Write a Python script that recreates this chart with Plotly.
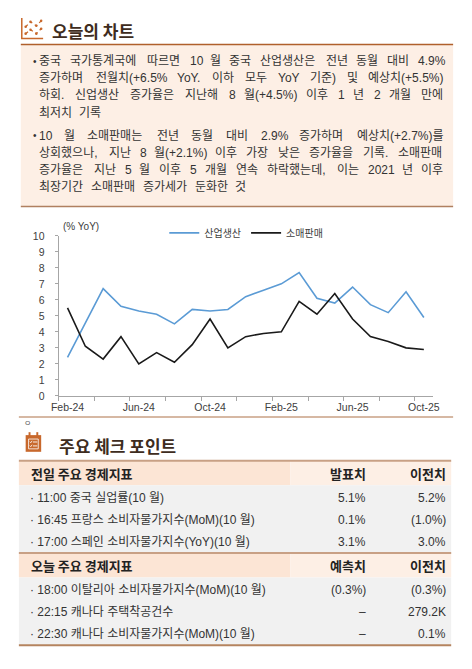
import plotly.graph_objects as go

# the page body adds an 8px margin round the figure, so the figure is
# made 16px smaller and every layout position is shifted back by 8px
OFF = 8
W, H = 472 - 2 * OFF, 669 - 2 * OFF

# chart data (% YoY)
months = ["Feb-24", "Mar-24", "Apr-24", "May-24", "Jun-24", "Jul-24", "Aug-24",
          "Sep-24", "Oct-24", "Nov-24", "Dec-24", "Jan-25", "Feb-25", "Mar-25",
          "Apr-25", "May-25", "Jun-25", "Jul-25", "Aug-25", "Sep-25", "Oct-25"]
ind_prod = [2.4, 4.5, 6.7, 5.6, 5.3, 5.1, 4.5, 5.4, 5.3, 5.4, 6.2, 6.6, 7.0,
            7.7, 6.1, 5.8, 6.8, 5.7, 5.2, 6.5, 4.9]
retail = [5.5, 3.1, 2.3, 3.7, 2.0, 2.7, 2.1, 3.2, 4.8, 3.0, 3.7, 3.9, 4.0,
          5.9, 5.1, 6.4, 4.8, 3.7, 3.4, 3.0, 2.9]
series_names = ["산업생산", "소매판매"]
tick_idx = [0, 4, 8, 12, 16, 20]

bullet1 = ["중국 국가통계국에 따르면 10 월 중국 산업생산은 전년 동월 대비 4.9%",
           "증가하며 전월치(+6.5% YoY. 이하 모두 YoY 기준) 및 예상치(+5.5%)",
           "하회. 신업생산 증가율은 지난해 8 월(+4.5%) 이후 1 년 2 개월 만에",
           "최저치 기록"]
bullet2 = ["10 월 소매판매는 전년 동월 대비 2.9% 증가하며 예상치(+2.7%)를",
           "상회했으나, 지난 8 월(+2.1%) 이후 가장 낮은 증가율을 기록. 소매판매",
           "증가율은 지난 5 월 이후 5 개월 연속 하락했는데, 이는 2021 년 이후",
           "최장기간 소매판매 증가세가 둔화한 것"]

# check points table
prev_head = ["전일 주요 경제지표", "발표치", "이전치"]
prev_items = ["11:00 중국 실업률(10 월)",
              "16:45 프랑스 소비자물가지수(MoM)(10 월)",
              "17:00 스페인 소비자물가지수(YoY)(10 월)"]
prev_actual = ["5.1%", "0.1%", "3.1%"]
prev_prior = ["5.2%", "(1.0%)", "3.0%"]
today_head = ["오늘 주요 경제지표", "예측치", "이전치"]
today_items = ["18:00 이탈리아 소비자물가지수(MoM)(10 월)",
               "22:15 캐나다 주택착공건수",
               "22:30 캐나다 소비자물가지수(MoM)(10 월)"]
today_fcst = ["(0.3%)", "–", "–"]
today_prior = ["(0.3%)", "279.2K", "0.1%"]

FONT = "Liberation Sans, Noto Sans CJK KR"
KFONT = "Noto Sans CJK KR, Liberation Sans"
ORANGE = "#c8682c"
BROWN_LINE = "#b0602c"
TAN_LINE = "#c8a085"
PEACH = "#fdefe5"
PEACH2 = "#fce5d5"
GRAY_ROW = "#f1f1f1"
TITLE_C = "#3e2c20"
TXT = "#333333"


def X(px):
    return (px - OFF) / W


def Y(py):
    return 1 - (py - OFF) / H


shapes = []
annots = []


def rect(x0, y0, x1, y1, fill, line=None, lw=0):
    shapes.append(dict(type="rect", xref="paper", yref="paper",
                       x0=X(x0), x1=X(x1), y0=Y(y1), y1=Y(y0),
                       fillcolor=fill, layer="below",
                       line=dict(color=line or fill, width=lw)))


def hline(x0, x1, y, color, width=1.5, dash="solid"):
    shapes.append(dict(type="line", xref="paper", yref="paper",
                       x0=X(x0), x1=X(x1), y0=Y(y), y1=Y(y),
                       line=dict(color=color, width=width, dash=dash)))


def seg(pts, color, width=1.2, dash="solid"):
    path = "M " + " L ".join(f"{X(a)},{Y(b)}" for a, b in pts)
    shapes.append(dict(type="path", xref="paper", yref="paper", path=path,
                       line=dict(color=color, width=width, dash=dash)))


def text(x, y, s, size=12, color=TXT, anchor="left", bold=False, family=FONT):
    if bold:
        s = f"<b>{s}</b>"
    annots.append(dict(x=X(x), y=Y(y), xref="paper", yref="paper", text=s,
                       showarrow=False, xanchor=anchor, yanchor="middle",
                       borderpad=0, font=dict(size=size, color=color, family=family)))


def char_w(ch):
    if "\uac00" <= ch <= "\ud7a3":
        return 1.0
    if ch.isdigit():
        return 0.556
    if ch in ".,: ":
        return 0.278
    if ch == "%":
        return 0.889
    if ch in "()":
        return 0.333
    if ch == "+":
        return 0.584
    if ch == "Y":
        return 0.667
    return 0.556


def word_w(s, size):
    return sum(char_w(c) for c in s) * size


def para(lines, y0, step, x0=32, x1=450, size=12):
    for i, ln in enumerate(lines):
        y = y0 + i * step
        words = ln.split(" ")
        ws = [word_w(w, size) for w in words]
        last = i == len(lines) - 1
        gap = 5.5 if last else (x1 - x0 - sum(ws)) / (len(words) - 1)
        x = x0
        for w, wd in zip(words, ws):
            text(x, y, w, size=size)
            x += wd + gap
    text(25.5, y0, "•", size=10)


# ---- section 1: today's chart ----
seg([(15, 12), (15, 33), (37, 33)], ORANGE, 1.5)
seg([(19, 21), (24, 16), (30, 20), (35, 15)], ORANGE, 1.3, "dot")
seg([(19, 28), (24, 24), (30, 28), (35, 23)], ORANGE, 1.3, "dot")
for px_, py_ in [(19, 21), (24, 16), (30, 20), (35, 15), (19, 28), (24, 24), (30, 28), (35, 23)]:
    shapes.append(dict(type="circle", xref="paper", yref="paper",
                       x0=X(px_ - 1.3), x1=X(px_ + 1.3), y0=Y(py_ + 1.3), y1=Y(py_ - 1.3),
                       fillcolor=ORANGE, line=dict(width=0)))
text(45, 25, "오늘의 차트", size=17, color=TITLE_C, bold=True, family=KFONT)
rect(14, 39, 460, 204, PEACH)
hline(14, 460, 39, BROWN_LINE, 1.5)
hline(14, 460, 204, "#b08060", 1.5)
para(bullet1, 56, 17.5)
para(bullet2, 132, 17.5)

# chart separator
hline(12, 460, 418.5, TAN_LINE, 1.5)
text(16, 424, "ㅇ", size=8, color="#555555", family=KFONT)

# ---- section 2: check points ----
rect(19, 437, 35, 454, ORANGE)
rect(22, 434, 24, 439, ORANGE)
rect(30, 434, 32, 439, ORANGE)
shapes.append(dict(type="rect", xref="paper", yref="paper", x0=X(22), x1=X(32),
                   y0=Y(451), y1=Y(441), line=dict(color="white", width=0.8)))
for yy in (444, 448):
    hline(26.5, 31, yy, "white", 0.9)
    seg([(23.3, yy - 0.3), (24.3, yy + 0.8), (25.6, yy - 1.2)], "white", 0.8)
text(52, 448, "주요 체크 포인트", size=17, color=TITLE_C, bold=True, family=KFONT)

COL1, COL2 = 371, 454


def table_block(top, head, items, c1, c2):
    rect(12, top, 292, top + 25, PEACH2)
    rect(292, top, 458, top + 25, PEACH)
    rect(12, top + 25, 458, top + 94, GRAY_ROW)
    text(23, top + 13, head[0], size=13, color="#222222", bold=True, family=KFONT)
    text(COL1, top + 13, head[1], size=13, color="#222222", anchor="right", bold=True, family=KFONT)
    text(COL2, top + 13, head[2], size=13, color="#222222", anchor="right", bold=True, family=KFONT)
    for i, (it, a, b) in enumerate(zip(items, c1, c2)):
        y = top + 38 + i * 22.5
        text(22, y, "· " + it, size=12)
        text(COL1, y, a, size=12, anchor="right")
        text(COL2, y, b, size=12, anchor="right")


table_block(463, prev_head, prev_items, prev_actual, prev_prior)
table_block(557, today_head, today_items, today_fcst, today_prior)
hline(12, 458, 463, TAN_LINE, 2)
hline(12, 458, 557, TAN_LINE, 2)
hline(12, 458, 651, "#b5845f", 2)

# ---- line chart ----
x_idx = list(range(len(months)))
fig = go.Figure()
fig.add_trace(go.Scatter(x=x_idx, y=ind_prod, mode="lines", name=series_names[0],
                         line=dict(color="#5b9bd5", width=1.6)))
fig.add_trace(go.Scatter(x=x_idx, y=retail, mode="lines", name=series_names[1],
                         line=dict(color="#1a1a1a", width=1.6)))

text(57, 224, "(% YoY)", size=10, color="#404040")

fig.update_layout(
    width=W, height=H,
    margin=dict(l=0, r=0, t=0, b=0),
    paper_bgcolor="white", plot_bgcolor="white",
    shapes=shapes, annotations=annots,
    showlegend=True,
    legend=dict(orientation="h", x=X(162), y=Y(231), xanchor="left", yanchor="middle",
                bgcolor="rgba(0,0,0,0)", font=dict(size=10, color="#404040", family=KFONT),
                itemwidth=30, tracegroupgap=0),
    font=dict(family=FONT),
    xaxis=dict(domain=[X(53), X(439)], range=[-0.5, 20.5], showgrid=False, zeroline=False,
               tickvals=tick_idx, ticktext=[months[i] for i in tick_idx], ticks="",
               tickfont=dict(size=10.5, color="#404040"), ticklabelstandoff=2,
               showline=True, linecolor="#a6a6a6", linewidth=1,
               minor=dict(tick0=-0.5, dtick=2, ticks="outside", ticklen=4,
                          tickcolor="#a6a6a6", showgrid=False)),
    yaxis=dict(domain=[Y(397), Y(234)], range=[0, 10], dtick=1, showgrid=False,
               zeroline=False, showline=True, linecolor="#a6a6a6", linewidth=1,
               ticks="outside", ticklen=3, tickcolor="#a6a6a6",
               tickfont=dict(size=10.5, color="#404040"), ticklabelstandoff=8),
)

fig.write_html("out.html")
